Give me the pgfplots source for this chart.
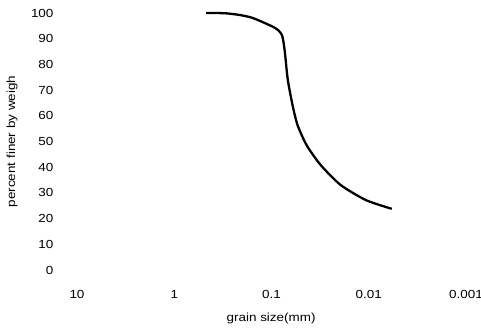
\documentclass[border=0pt]{standalone}
\usepackage{pgfplots}
\pgfplotsset{compat=1.18}
\usepackage{fontspec}
\setmainfont[FakeStretch=1.15]{Liberation Sans}
\begin{document}
\begin{tikzpicture}
\begin{axis}[
  scale only axis,
  width=389pt, height=257pt,
  xmode=log, x dir=reverse,
  xmin=0.001, xmax=10,
  ymin=0, ymax=100,
  axis line style={draw=none},
  major tick length=0pt, minor tick length=0pt,
  tick style={draw=none},
  xtick={10,1,0.1,0.01,0.001},
  xticklabels={10,1,0.1,0.01,0.001},
  ytick={0,10,...,100},
  yticklabel={\pgfmathprintnumber{\tick}\hspace*{20pt}},
  /pgf/number format/assume math mode=true,
  ticklabel style={font=\fontsize{11.7}{13}\selectfont},
  xticklabel style={anchor=north, yshift=-17pt},
  yticklabel style={anchor=east},
  xlabel={grain size(mm)},
  ylabel={percent finer by weigh},
  label style={font=\fontsize{11.7}{13}\selectfont},
  xlabel style={at={(axis description cs:0.499,-0.187)}, anchor=center},
  ylabel style={at={(axis description cs:-0.167,0.5)}, anchor=center, rotate=0},
  clip=false,
]
\addplot[black, line width=2.3pt, smooth, tension=0.4] coordinates {
(0.47,100) (0.30,99.9) (0.21,99.2) (0.16,98.2) (0.124,96.5) (0.095,94.5) (0.0848,93.2) (0.078,91.4)
(0.0748,88) (0.0725,84) (0.068,74) (0.0608,64.2) (0.054,56.4) (0.0436,48.6)
(0.0313,40.9) (0.0195,33.1) (0.0107,27.2) (0.0058,23.8)
};
\end{axis}
\pgfresetboundingbox
\path ([shift={(-77pt,-61pt)}]current axis.south west) rectangle ([shift={(15pt,13pt)}]current axis.north east);
\end{tikzpicture}
\end{document}
